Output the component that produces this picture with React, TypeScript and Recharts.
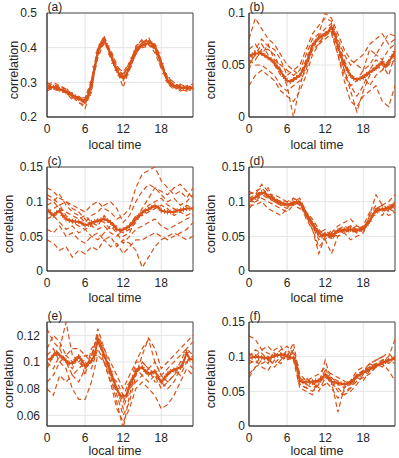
import React from 'react';
import { LineChart, Line, XAxis, YAxis, CartesianGrid, ReferenceArea } from 'recharts';

// ---------- shared axes data ----------
const HOURS = [0, 1, 2, 3, 4, 5, 6, 7, 8, 9, 10, 11, 12, 13, 14, 15, 16, 17, 18, 19, 20, 21, 22, 23];
const HALF_HOURS = [
  0, 0.5, 1, 1.5, 2, 2.5, 3, 3.5, 4, 4.5, 5, 5.5, 6, 6.5, 7, 7.5, 8, 8.5, 9, 9.5, 10, 10.5, 11, 11.5,
  12, 12.5, 13, 13.5, 14, 14.5, 15, 15.5, 16, 16.5, 17, 17.5, 18, 18.5, 19, 19.5, 20, 20.5, 21, 21.5,
  22, 22.5, 23,
];
const X_TICKS = [0, 6, 12, 18];
const X_LABEL = 'local time';
const Y_LABEL = 'correlation';
const TAGS = ['(a)', '(b)', '(c)', '(d)', '(e)', '(f)'];

// ---------- panel (a) ----------
const A_TICKS = [0.2, 0.3, 0.4, 0.5];
const A_MEAN = [
  0.288, 0.287, 0.286, 0.284, 0.28, 0.277, 0.273, 0.268, 0.263, 0.258, 0.253, 0.249, 0.247, 0.262, 0.3,
  0.345, 0.385, 0.41, 0.42, 0.405, 0.38, 0.355, 0.335, 0.32, 0.313, 0.322, 0.345, 0.37, 0.39, 0.402, 0.408,
  0.411, 0.413, 0.412, 0.405, 0.385, 0.355, 0.325, 0.305, 0.295, 0.29, 0.288, 0.286, 0.284, 0.283, 0.284, 0.285,
];
const A_RUNS = [
  [0.295, 0.3, 0.29, 0.28, 0.265, 0.255, 0.24, 0.3, 0.4, 0.43, 0.385, 0.34, 0.32, 0.35, 0.395, 0.415, 0.42, 0.4, 0.35, 0.305, 0.295, 0.29, 0.28, 0.285],
  [0.285, 0.28, 0.285, 0.275, 0.26, 0.25, 0.25, 0.29, 0.38, 0.425, 0.375, 0.33, 0.305, 0.34, 0.385, 0.405, 0.41, 0.395, 0.36, 0.31, 0.285, 0.28, 0.29, 0.28],
  [0.28, 0.29, 0.28, 0.27, 0.27, 0.245, 0.225, 0.28, 0.39, 0.41, 0.39, 0.345, 0.33, 0.355, 0.4, 0.425, 0.415, 0.41, 0.345, 0.3, 0.29, 0.295, 0.285, 0.29],
  [0.3, 0.285, 0.275, 0.285, 0.255, 0.26, 0.245, 0.27, 0.395, 0.435, 0.38, 0.335, 0.285, 0.34, 0.38, 0.41, 0.43, 0.39, 0.355, 0.315, 0.3, 0.28, 0.275, 0.285],
  [0.29, 0.295, 0.285, 0.265, 0.265, 0.25, 0.24, 0.295, 0.37, 0.415, 0.395, 0.35, 0.315, 0.36, 0.39, 0.4, 0.405, 0.405, 0.365, 0.295, 0.28, 0.285, 0.29, 0.295],
  [0.275, 0.285, 0.29, 0.28, 0.26, 0.24, 0.235, 0.285, 0.385, 0.42, 0.39, 0.33, 0.325, 0.345, 0.405, 0.42, 0.41, 0.385, 0.34, 0.32, 0.29, 0.275, 0.28, 0.275],
  [0.29, 0.28, 0.275, 0.27, 0.25, 0.255, 0.255, 0.305, 0.4, 0.425, 0.37, 0.34, 0.31, 0.335, 0.39, 0.415, 0.425, 0.4, 0.35, 0.3, 0.285, 0.29, 0.285, 0.28],
];

// ---------- panel (b) ----------
const B_TICKS = [0, 0.05, 0.1];
const B_MEAN = [
  0.058, 0.06, 0.061, 0.061, 0.061, 0.059, 0.057, 0.055, 0.052, 0.048, 0.044, 0.039, 0.035, 0.034, 0.036,
  0.038, 0.04, 0.045, 0.051, 0.06, 0.069, 0.073, 0.076, 0.078, 0.08, 0.082, 0.086, 0.08, 0.068, 0.059, 0.051,
  0.045, 0.04, 0.037, 0.036, 0.037, 0.038, 0.041, 0.043, 0.045, 0.047, 0.05, 0.053, 0.049, 0.052, 0.058, 0.063,
];
const B_RUNS = [
  [0.075, 0.095, 0.085, 0.075, 0.07, 0.06, 0.05, 0.045, 0.05, 0.065, 0.08, 0.088, 0.095, 0.092, 0.075, 0.06, 0.05, 0.055, 0.06, 0.07, 0.075, 0.08, 0.07, 0.075],
  [0.03, 0.04, 0.045, 0.04, 0.035, 0.025, 0.02, 0.015, 0.025, 0.04, 0.06, 0.07, 0.075, 0.08, 0.06, 0.035, 0.015, 0.01, 0.02, 0.025, 0.03, 0.015, 0.01, 0.03],
  [0.06, 0.055, 0.065, 0.065, 0.06, 0.045, 0.03, 0.0, 0.03, 0.05, 0.065, 0.078, 0.085, 0.09, 0.07, 0.045, 0.03, 0.02, 0.03, 0.045, 0.055, 0.05, 0.04, 0.06],
  [0.065, 0.07, 0.06, 0.07, 0.055, 0.05, 0.045, 0.04, 0.045, 0.06, 0.075, 0.08, 0.1, 0.095, 0.08, 0.065, 0.055, 0.05, 0.045, 0.065, 0.06, 0.07, 0.08, 0.078],
  [0.05, 0.06, 0.07, 0.06, 0.05, 0.04, 0.035, 0.035, 0.04, 0.055, 0.07, 0.075, 0.08, 0.085, 0.065, 0.045, 0.025, 0.005, 0.025, 0.04, 0.05, 0.045, 0.055, 0.06],
  [0.055, 0.05, 0.05, 0.045, 0.04, 0.03, 0.025, 0.03, 0.035, 0.045, 0.068, 0.072, 0.078, 0.082, 0.06, 0.04, 0.03, 0.035, 0.04, 0.03, 0.04, 0.045, 0.05, 0.055],
  [0.045, 0.065, 0.075, 0.068, 0.065, 0.055, 0.04, 0.045, 0.04, 0.05, 0.065, 0.07, 0.08, 0.088, 0.072, 0.055, 0.04, 0.035, 0.045, 0.05, 0.06, 0.055, 0.065, 0.07],
];

// ---------- panel (c) ----------
const C_TICKS = [0, 0.05, 0.1, 0.15];
const C_MEAN = [
  0.089, 0.084, 0.08, 0.084, 0.087, 0.08, 0.075, 0.073, 0.072, 0.071, 0.071, 0.069, 0.066, 0.067, 0.07,
  0.071, 0.072, 0.074, 0.075, 0.073, 0.07, 0.066, 0.06, 0.059, 0.06, 0.062, 0.065, 0.07, 0.075, 0.08, 0.084,
  0.087, 0.089, 0.092, 0.094, 0.092, 0.087, 0.086, 0.085, 0.085, 0.085, 0.087, 0.088, 0.089, 0.09, 0.09, 0.09,
];
const C_RUNS = [
  [0.12, 0.115, 0.105, 0.1, 0.095, 0.09, 0.085, 0.095, 0.1, 0.09, 0.085, 0.075, 0.08, 0.09, 0.12, 0.14, 0.145, 0.15, 0.13, 0.12, 0.11, 0.115, 0.105, 0.12],
  [0.105, 0.1, 0.11, 0.095, 0.085, 0.08, 0.07, 0.08, 0.085, 0.095, 0.1, 0.09, 0.07, 0.08, 0.1, 0.115, 0.125, 0.12, 0.11, 0.1, 0.105, 0.095, 0.1, 0.11],
  [0.06, 0.055, 0.065, 0.05, 0.055, 0.045, 0.04, 0.05, 0.055, 0.045, 0.05, 0.035, 0.045, 0.04, 0.03, 0.005, 0.02, 0.035, 0.045, 0.05, 0.055, 0.05, 0.045, 0.05],
  [0.045, 0.04, 0.03, 0.035, 0.02, 0.03, 0.025, 0.035, 0.03, 0.045, 0.035, 0.04, 0.025, 0.035, 0.045, 0.045, 0.05, 0.055, 0.05, 0.045, 0.05, 0.055, 0.06, 0.07],
  [0.095, 0.1, 0.09, 0.085, 0.08, 0.075, 0.08, 0.07, 0.065, 0.08, 0.07, 0.06, 0.055, 0.06, 0.07, 0.085, 0.095, 0.1, 0.105, 0.095, 0.09, 0.085, 0.095, 0.09],
  [0.11, 0.105, 0.095, 0.1, 0.09, 0.085, 0.075, 0.065, 0.075, 0.07, 0.06, 0.065, 0.05, 0.055, 0.075, 0.09, 0.105, 0.12, 0.115, 0.11, 0.12, 0.125, 0.115, 0.105],
  [0.075, 0.08, 0.07, 0.06, 0.065, 0.055, 0.06, 0.05, 0.045, 0.055, 0.065, 0.055, 0.04, 0.05, 0.06, 0.065, 0.07, 0.075, 0.065, 0.06, 0.065, 0.07, 0.075, 0.08],
  [0.085, 0.09, 0.095, 0.08, 0.07, 0.065, 0.06, 0.065, 0.06, 0.065, 0.055, 0.05, 0.06, 0.065, 0.08, 0.08, 0.085, 0.09, 0.095, 0.09, 0.08, 0.085, 0.08, 0.085],
];

// ---------- panel (d) ----------
const D_TICKS = [0, 0.05, 0.1, 0.15];
const D_MEAN = [
  0.103, 0.104, 0.106, 0.11, 0.113, 0.112, 0.108, 0.105, 0.103, 0.1, 0.098, 0.097, 0.096, 0.097, 0.098,
  0.1, 0.098, 0.092, 0.082, 0.075, 0.068, 0.061, 0.056, 0.05, 0.053, 0.052, 0.05, 0.054, 0.058, 0.059, 0.06,
  0.06, 0.06, 0.059, 0.058, 0.06, 0.062, 0.066, 0.072, 0.08, 0.087, 0.088, 0.089, 0.09, 0.09, 0.093, 0.095,
];
const D_RUNS = [
  [0.115, 0.11, 0.125, 0.115, 0.105, 0.1, 0.095, 0.1, 0.105, 0.085, 0.07, 0.05, 0.055, 0.048, 0.06, 0.065, 0.06, 0.055, 0.06, 0.08, 0.11, 0.095, 0.09, 0.1],
  [0.09, 0.1, 0.105, 0.1, 0.095, 0.09, 0.085, 0.095, 0.1, 0.08, 0.06, 0.035, 0.045, 0.025, 0.05, 0.055, 0.045, 0.05, 0.055, 0.075, 0.085, 0.09, 0.08, 0.085],
  [0.11, 0.115, 0.12, 0.11, 0.11, 0.105, 0.1, 0.095, 0.09, 0.085, 0.075, 0.06, 0.05, 0.055, 0.065, 0.07, 0.075, 0.065, 0.06, 0.07, 0.09, 0.095, 0.1, 0.11],
  [0.1, 0.105, 0.11, 0.105, 0.1, 0.095, 0.09, 0.1, 0.095, 0.08, 0.065, 0.045, 0.055, 0.045, 0.055, 0.06, 0.055, 0.06, 0.065, 0.085, 0.085, 0.08, 0.095, 0.09],
  [0.095, 0.095, 0.1, 0.09, 0.085, 0.08, 0.09, 0.105, 0.1, 0.075, 0.06, 0.025, 0.05, 0.055, 0.05, 0.058, 0.065, 0.055, 0.065, 0.07, 0.09, 0.095, 0.085, 0.1],
  [0.105, 0.11, 0.115, 0.11, 0.105, 0.1, 0.1, 0.105, 0.1, 0.085, 0.07, 0.055, 0.06, 0.05, 0.06, 0.055, 0.06, 0.065, 0.055, 0.08, 0.095, 0.085, 0.095, 0.095],
  [0.1, 0.1, 0.11, 0.12, 0.1, 0.095, 0.095, 0.095, 0.1, 0.08, 0.065, 0.05, 0.045, 0.06, 0.055, 0.06, 0.065, 0.06, 0.06, 0.075, 0.09, 0.09, 0.09, 0.085],
];

// ---------- panel (e) ----------
const E_TICKS = [0.06, 0.08, 0.1, 0.12];
const E_MEAN = [
  0.102, 0.102, 0.105, 0.107, 0.105, 0.103, 0.101, 0.099, 0.099, 0.102, 0.104, 0.101, 0.097, 0.099, 0.101,
  0.105, 0.117, 0.112, 0.105, 0.099, 0.093, 0.086, 0.08, 0.075, 0.074, 0.075, 0.083, 0.087, 0.093, 0.095,
  0.096, 0.093, 0.091, 0.092, 0.093, 0.089, 0.085, 0.088, 0.091, 0.093, 0.094, 0.095, 0.096, 0.1, 0.107, 0.102, 0.102,
];
const E_RUNS = [
  [0.125, 0.115, 0.11, 0.13, 0.105, 0.1, 0.095, 0.105, 0.12, 0.11, 0.095, 0.075, 0.06, 0.07, 0.09, 0.105, 0.118, 0.11, 0.095, 0.1, 0.105, 0.11, 0.115, 0.12],
  [0.085, 0.09, 0.1, 0.095, 0.08, 0.072, 0.072, 0.085, 0.105, 0.1, 0.085, 0.065, 0.055, 0.065, 0.08, 0.085, 0.08, 0.075, 0.065, 0.068, 0.075, 0.085, 0.095, 0.09],
  [0.11, 0.12, 0.115, 0.105, 0.11, 0.11, 0.105, 0.1, 0.125, 0.11, 0.1, 0.09, 0.08, 0.09, 0.1, 0.1, 0.095, 0.1, 0.09, 0.095, 0.1, 0.105, 0.11, 0.105],
  [0.1, 0.095, 0.105, 0.1, 0.095, 0.105, 0.09, 0.11, 0.115, 0.105, 0.09, 0.07, 0.05, 0.075, 0.095, 0.09, 0.095, 0.09, 0.08, 0.085, 0.09, 0.095, 0.105, 0.1],
  [0.095, 0.105, 0.11, 0.1, 0.09, 0.095, 0.1, 0.095, 0.11, 0.1, 0.09, 0.085, 0.075, 0.085, 0.09, 0.1, 0.095, 0.085, 0.085, 0.09, 0.095, 0.09, 0.1, 0.095],
  [0.08, 0.075, 0.09, 0.085, 0.09, 0.085, 0.095, 0.1, 0.115, 0.105, 0.095, 0.08, 0.07, 0.08, 0.1, 0.11, 0.117, 0.1, 0.09, 0.085, 0.09, 0.1, 0.11, 0.115],
  [0.105, 0.11, 0.1, 0.105, 0.1, 0.1, 0.105, 0.105, 0.12, 0.1, 0.085, 0.08, 0.065, 0.08, 0.085, 0.09, 0.085, 0.09, 0.085, 0.08, 0.085, 0.095, 0.1, 0.105],
];

// ---------- panel (f) ----------
const F_TICKS = [0, 0.05, 0.1, 0.15];
const F_MEAN = [
  0.098, 0.099, 0.1, 0.099, 0.099, 0.098, 0.098, 0.099, 0.101, 0.102, 0.103, 0.102, 0.1, 0.099, 0.098, 0.088,
  0.065, 0.064, 0.064, 0.064, 0.064, 0.065, 0.065, 0.069, 0.074, 0.07, 0.064, 0.063, 0.062, 0.061, 0.06,
  0.061, 0.063, 0.067, 0.072, 0.074, 0.077, 0.079, 0.082, 0.084, 0.087, 0.089, 0.091, 0.093, 0.095, 0.096, 0.098,
];
const F_RUNS = [
  [0.13, 0.125, 0.11, 0.105, 0.1, 0.11, 0.115, 0.105, 0.06, 0.055, 0.05, 0.06, 0.095, 0.065, 0.02, 0.055, 0.06, 0.07, 0.08, 0.085, 0.09, 0.095, 0.1, 0.125],
  [0.075, 0.085, 0.09, 0.095, 0.09, 0.1, 0.095, 0.11, 0.075, 0.065, 0.07, 0.075, 0.085, 0.06, 0.055, 0.045, 0.05, 0.06, 0.075, 0.09, 0.085, 0.095, 0.09, 0.1],
  [0.1, 0.11, 0.105, 0.095, 0.1, 0.105, 0.1, 0.12, 0.07, 0.06, 0.065, 0.055, 0.06, 0.07, 0.065, 0.06, 0.065, 0.08, 0.085, 0.08, 0.095, 0.1, 0.105, 0.095],
  [0.09, 0.095, 0.085, 0.08, 0.095, 0.09, 0.105, 0.095, 0.055, 0.05, 0.045, 0.07, 0.065, 0.055, 0.04, 0.05, 0.055, 0.065, 0.07, 0.075, 0.085, 0.09, 0.095, 0.09],
  [0.105, 0.1, 0.11, 0.115, 0.105, 0.1, 0.095, 0.1, 0.065, 0.07, 0.06, 0.065, 0.08, 0.075, 0.07, 0.065, 0.06, 0.075, 0.08, 0.085, 0.09, 0.085, 0.095, 0.1],
  [0.07, 0.085, 0.095, 0.1, 0.085, 0.095, 0.11, 0.1, 0.06, 0.055, 0.065, 0.05, 0.07, 0.065, 0.05, 0.045, 0.055, 0.07, 0.065, 0.08, 0.085, 0.09, 0.08, 0.065],
  [0.095, 0.09, 0.1, 0.09, 0.11, 0.115, 0.1, 0.105, 0.065, 0.06, 0.055, 0.06, 0.075, 0.07, 0.06, 0.055, 0.065, 0.07, 0.08, 0.09, 0.095, 0.1, 0.095, 0.1],
];

// ---------- styling / layout ----------
const COLOR = '#D95319';
const AXIS_COLOR = '#262626';
const GRID_COLOR = '#e4e4e4';
const FONT = '"Liberation Sans", Arial, Helvetica, sans-serif';

const CHART_W = 200;
const CHART_H = 150;
const PLOT_W = 146;
const PLOT_H = 104;
const M_TOP = 12;

const toPoints = (xs: number[], ys: number[]) => xs.map((x, i) => ({ x, y: ys[i] }));

const PlusDot = (props: any) => {
  const { cx, cy, index } = props;
  if (cx == null || cy == null) return <g key={`p-${index}`} />;
  const s = 2.5;
  return (
    <path
      key={`p-${index}`}
      d={`M${cx - s},${cy}H${cx + s}M${cx},${cy - s}V${cy + s}`}
      stroke={COLOR}
      strokeWidth={1}
      fill="none"
    />
  );
};

type PanelProps = {
  tag: string;
  mean: number[];
  runs: number[][];
  domain: [number, number];
  ticks: number[];
  left: number;
  top: number;
  yAxisW: number;
  tickGap: number;
  yLabelX: number;
  xLabelY: number;
};

const Panel = ({ tag, mean, runs, domain, ticks, left, top, yAxisW, tickGap, yLabelX, xLabelY }: PanelProps) => {
  const plotLeft = yAxisW;
  const plotCx = plotLeft + PLOT_W / 2;
  const meanPts = toPoints(HALF_HOURS, mean);
  return (
    <div style={{ position: 'absolute', left, top, width: CHART_W, height: CHART_H }}>
      <LineChart
        width={CHART_W}
        height={CHART_H}
        margin={{ top: M_TOP, right: CHART_W - yAxisW - PLOT_W, bottom: 0, left: 0 }}
      >
        <CartesianGrid stroke={GRID_COLOR} strokeWidth={1} />
        <XAxis
          type="number"
          dataKey="x"
          domain={[0, 23]}
          ticks={X_TICKS}
          allowDataOverflow
          height={CHART_H - M_TOP - PLOT_H}
          tickLine={false}
          tickSize={0}
          tickMargin={7}
          axisLine={{ stroke: AXIS_COLOR, strokeWidth: 0.8 }}
          tick={{ fill: AXIS_COLOR, fontSize: 12, fontFamily: FONT }}
          label={() => (
            <text
              x={plotCx - 5}
              y={xLabelY}
              textAnchor="middle"
              fontSize={12.5}
              fontFamily={FONT}
              fill={AXIS_COLOR}
            >
              {X_LABEL}
            </text>
          )}
        />
        <YAxis
          type="number"
          domain={domain}
          ticks={ticks}
          allowDataOverflow
          width={yAxisW}
          tickLine={false}
          tickSize={0}
          tickMargin={tickGap}
          axisLine={{ stroke: AXIS_COLOR, strokeWidth: 0.8 }}
          tick={{ fill: AXIS_COLOR, fontSize: 12, fontFamily: FONT }}
          label={() => (
            <g>
              <text
                x={yLabelX}
                y={M_TOP + PLOT_H / 2 + 5}
                transform={`rotate(-90, ${yLabelX}, ${M_TOP + PLOT_H / 2 + 5})`}
                textAnchor="middle"
                fontSize={12.5}
                fontFamily={FONT}
                fill={AXIS_COLOR}
              >
                {Y_LABEL}
              </text>
              <text x={plotLeft + 0.5} y={M_TOP - 2.5} fontSize={12} fontFamily={FONT} fill={AXIS_COLOR}>
                {tag}
              </text>
            </g>
          )}
        />
        {runs.map((r, i) => (
          <Line
            key={`run-${i}`}
            data={toPoints(HOURS, r)}
            dataKey="y"
            stroke={COLOR}
            strokeWidth={1.2}
            strokeDasharray="5 3"
            dot={false}
            activeDot={false}
            isAnimationActive={false}
          />
        ))}
        <Line
          data={meanPts}
          dataKey="y"
          stroke={COLOR}
          strokeWidth={2}
          dot={PlusDot}
          activeDot={false}
          isAnimationActive={false}
        />
        <ReferenceArea
          x1={0}
          x2={23}
          y1={domain[0]}
          y2={domain[1]}
          fill="none"
          fillOpacity={0}
          stroke={AXIS_COLOR}
          strokeWidth={0.8}
          ifOverflow="visible"
        />
      </LineChart>
    </div>
  );
};

export default function App() {
  const panels: PanelProps[] = [
    { tag: TAGS[0], mean: A_MEAN, runs: A_RUNS, domain: [0.2, 0.5], ticks: A_TICKS, left: 0, top: 0.5, yAxisW: 47, tickGap: 10, yLabelX: 18, xLabelY: 147.5 },
    { tag: TAGS[1], mean: B_MEAN, runs: B_RUNS, domain: [0, 0.1], ticks: B_TICKS, left: 200, top: 0.5, yAxisW: 49, tickGap: 4, yLabelX: 15, xLabelY: 147.5 },
    { tag: TAGS[2], mean: C_MEAN, runs: C_RUNS, domain: [0, 0.15], ticks: C_TICKS, left: 0, top: 155, yAxisW: 47, tickGap: 4, yLabelX: 12.5, xLabelY: 146.5 },
    { tag: TAGS[3], mean: D_MEAN, runs: D_RUNS, domain: [0, 0.15], ticks: D_TICKS, left: 200, top: 155, yAxisW: 49, tickGap: 4, yLabelX: 15, xLabelY: 146.5 },
    { tag: TAGS[4], mean: E_MEAN, runs: E_RUNS, domain: [0.052, 0.13], ticks: E_TICKS, left: 0, top: 310, yAxisW: 47, tickGap: 7, yLabelX: 12.5, xLabelY: 144.5 },
    { tag: TAGS[5], mean: F_MEAN, runs: F_RUNS, domain: [0, 0.15], ticks: F_TICKS, left: 200, top: 310, yAxisW: 49, tickGap: 4, yLabelX: 15, xLabelY: 144.5 },
  ];
  return (
    <div
      style={{
        position: 'absolute',
        left: 0,
        top: 0,
        width: 399,
        height: 458,
        background: '#ffffff',
        fontFamily: FONT,
        overflow: 'hidden',
      }}
    >
      {panels.map((p) => (
        <Panel key={p.tag} {...p} />
      ))}
    </div>
  );
}
